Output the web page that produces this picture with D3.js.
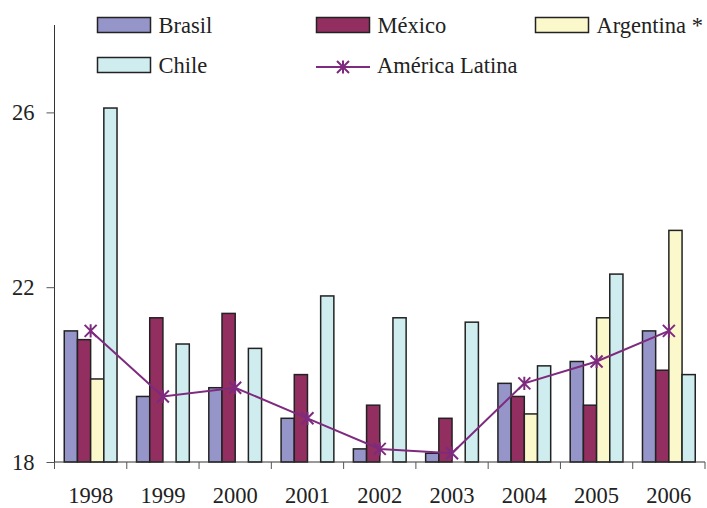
<!DOCTYPE html>
<html>
<head>
<meta charset="utf-8">
<script src="https://cdn.jsdelivr.net/npm/d3@7"></script>
<style>
  body { margin: 0; background: #fff; }
  text { font-family: "Liberation Serif", "Times New Roman", serif; fill: #222; }
</style>
</head>
<body>
<div id="chart"></div>
<script>
// data
let years = ["1998", "1999", "2000", "2001", "2002", "2003", "2004", "2005", "2006"];
let seriesNames = ["Brasil", "México", "Argentina *", "Chile"];
let brasil    = [21.0, 19.5, 19.7, 19.0, 18.3, 18.2, 19.8, 20.3, 21.0];
let mexico    = [20.8, 21.3, 21.4, 20.0, 19.3, 19.0, 19.5, 19.3, 20.1];
let argentina = [19.9, null, null, null, null, null, 19.1, 21.3, 23.3];
let chile     = [26.1, 20.7, 20.6, 21.8, 21.3, 21.2, 20.2, 22.3, 20.0];
let latam     = [21.0, 19.5, 19.7, 19.0, 18.3, 18.2, 19.8, 20.3, 21.0];
let lineName = "América Latina";
let yTicks = [18, 22, 26];

let colors = ["#9595c9", "#922f60", "#fbf8cb", "#cfecef"];
let lineColor = "#7e2a7e";

let width = 707, height = 508;
let svg = d3.select("#chart").append("svg")
  .attr("width", width)
  .attr("height", height);

let xScale = d3.scaleBand().domain(years).range([54.5, 705]);
let bw = xScale.bandwidth();
let sScale = d3.scaleBand().domain(seriesNames).range([bw * 0.135, bw * 0.865]);
let yScale = d3.scaleLinear().domain([18, 28]).range([462, 25]);

let seriesValues = [brasil, mexico, argentina, chile];

// bars
seriesNames.forEach(function(name, si) {
  svg.append("g")
    .selectAll("rect")
    .data(seriesValues[si].map(function(v, i) { return {year: years[i], v: v}; })
      .filter(function(d) { return d.v !== null; }))
    .enter()
    .append("rect")
    .attr("x", function(d) { return xScale(d.year) + sScale(name); })
    .attr("width", sScale.bandwidth())
    .attr("y", function(d) { return yScale(d.v); })
    .attr("height", function(d) { return yScale(18) - yScale(d.v); })
    .attr("fill", colors[si])
    .attr("stroke", "#222")
    .attr("stroke-width", 1.5);
});

// y axis
let yAxis = svg.append("g")
  .attr("transform", "translate(54.5,0)")
  .call(d3.axisLeft(yScale).tickValues(yTicks).tickSize(8).tickPadding(12).tickSizeOuter(0));
yAxis.select(".domain").attr("stroke", "#333").attr("d", "M0,25V469");
yAxis.selectAll(".tick line").attr("stroke", "#555");
yAxis.selectAll(".tick text")
  .attr("font-family", "Liberation Serif, serif")
  .attr("font-size", 22.5)
  .attr("fill", "#222");

// x axis: ticks at band boundaries, labels at centres
let xg = svg.append("g").attr("transform", "translate(0,462)");
xg.append("line")
  .attr("x1", 54.5).attr("x2", 705)
  .attr("stroke", "#333");
let bounds = years.map(function(y) { return xScale(y); }).concat([xScale.range()[1]]);
xg.selectAll(".tk").data(bounds).enter().append("line")
  .attr("x1", function(d) { return d; })
  .attr("x2", function(d) { return d; })
  .attr("y1", 0).attr("y2", 7)
  .attr("stroke", "#555");
xg.selectAll(".lb").data(years).enter().append("text")
  .attr("x", function(d) { return xScale(d) + bw / 2; })
  .attr("y", 41)
  .attr("text-anchor", "middle")
  .attr("font-size", 22.5)
  .text(function(d) { return d; });

// line series
let line = d3.line()
  .x(function(d, i) { return xScale(years[i]) + bw / 2; })
  .y(function(d) { return yScale(d); });
svg.append("path")
  .attr("d", line(latam))
  .attr("fill", "none")
  .attr("stroke", lineColor)
  .attr("stroke-width", 2);

function star(g, cx, cy, r) {
  g.append("path")
    .attr("d", "M" + (cx - r) + "," + (cy - r) + "L" + (cx + r) + "," + (cy + r) +
               "M" + (cx - r) + "," + (cy + r) + "L" + (cx + r) + "," + (cy - r) +
               "M" + cx + "," + (cy - r * 1.1) + "L" + cx + "," + (cy + r * 1.1))
    .attr("stroke", lineColor)
    .attr("stroke-width", 2)
    .attr("fill", "none");
}
latam.forEach(function(v, i) {
  star(svg, xScale(years[i]) + bw / 2, yScale(v), 6);
});

// legend
let legendPos = [[97.5, 17.5], [316.5, 17.5], [535.5, 17.5], [97.5, 57.5]];
seriesNames.forEach(function(name, i) {
  let p = legendPos[i];
  svg.append("rect")
    .attr("x", p[0]).attr("y", p[1])
    .attr("width", 53).attr("height", 15)
    .attr("fill", colors[i])
    .attr("stroke", "#222")
    .attr("stroke-width", 1.5);
  svg.append("text")
    .attr("x", p[0] + 61).attr("y", p[1] + 15)
    .attr("font-size", 22.5)
    .text(name);
});
svg.append("line")
  .attr("x1", 316).attr("x2", 370)
  .attr("y1", 67).attr("y2", 67)
  .attr("stroke", lineColor)
  .attr("stroke-width", 2);
star(svg, 343, 67, 6);
svg.append("text")
  .attr("x", 377).attr("y", 72.5)
  .attr("font-size", 22.5)
  .text(lineName);
</script>
</body>
</html>
